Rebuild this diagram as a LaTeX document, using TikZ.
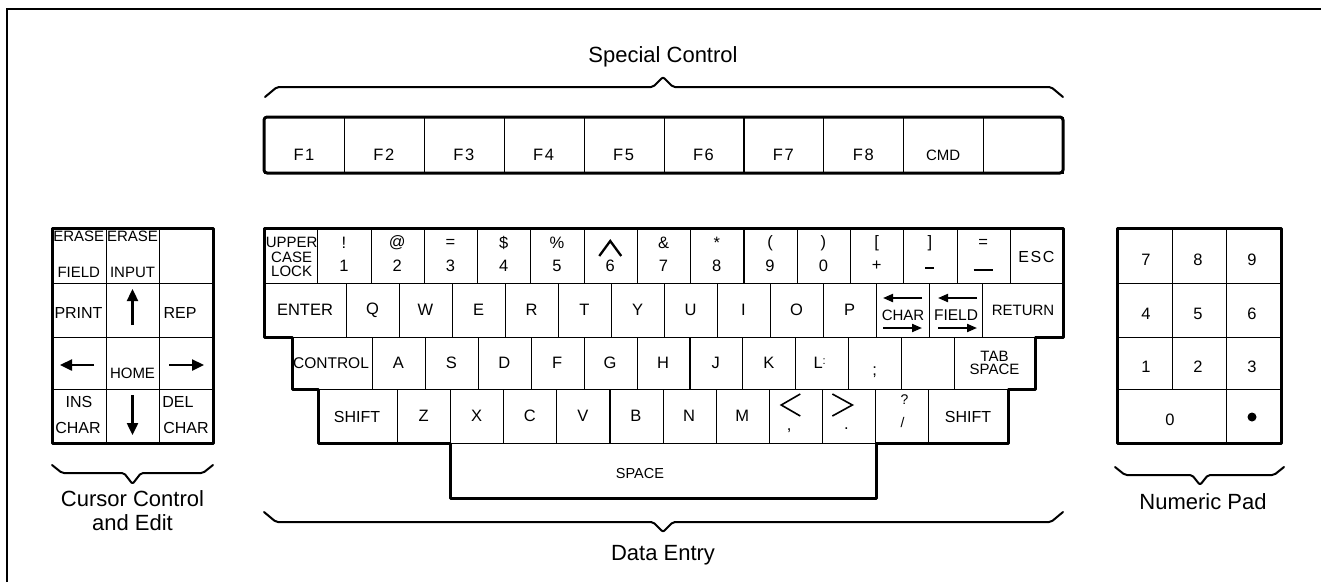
\documentclass[tikz,border=0pt]{standalone}
\usepackage{fontspec}
\setmainfont{Liberation Sans}
\newfontfamily\spc[LetterSpace=10]{Liberation Sans}
\usetikzlibrary{arrows.meta}
\newcommand\kfont[1]{\fontsize{#1}{#1}\selectfont}
\begin{document}
\begin{tikzpicture}[x=1pt,y=-1pt,
  kb/.style n args={2}{draw,line width=1.1pt,inner sep=0pt,minimum width=#1,minimum height=#2,anchor=north west},
  lbl/.style={inner sep=0pt,font=\kfont{16.5}},
  lsm/.style={inner sep=0pt,font=\fontsize{15}{13}\selectfont,align=center},
  ttl/.style={inner sep=0pt,font=\fontsize{22}{24}\selectfont,align=center},
  outl/.style={line width=3pt,line join=round},
  brc/.style={line width=2pt,line join=round,line cap=round,rounded corners=2pt},
  arr/.style={line width=2.4pt,-{Triangle[length=12pt,width=11pt]}},
  arrs/.style={line width=2pt,-{Triangle[length=10pt,width=8pt]}}
]
\useasboundingbox (0,0) rectangle (1321,582);
\draw[line width=1.2pt] (7,582) -- (7,9) -- (1321,9);

% ---------- Special control ----------
\node[ttl] (sc) at (663,57) {Special Control};
\draw[brc] (265,97) -- (277,87) -- (653,87) -- (663,77) -- (673,87) -- (1051,87) -- (1063,97);
\foreach \i/\t in {0/F1,1/F2,2/F3,3/F4,4/F5,5/F6,6/F7,7/F8} {
  \node[kb={79.9pt}{56pt}] (f\i) at ({264+\i*79.9},117) {};
  \node[inner sep=0pt,font=\spc\kfont{16.5}] (fl\i) at ({264+(\i+0.5)*79.9},155) {\t};
}
\node[kb={79.9pt}{56pt}] (f8) at ({264+8*79.9},117) {};
\node[inner sep=0pt,font=\kfont{15}] (fl8) at ({264+8.5*79.9},155) {CMD};
\node[kb={79.9pt}{56pt}] (f9) at ({264+9*79.9},117) {};
\draw[outl,rounded corners=3pt] (264,117) rectangle (1063,173);

% ---------- Row 1 ----------
\foreach \i in {0,...,14} {
  \node[kb={53.27pt}{55pt}] (ra\i) at ({264+\i*53.27},228) {};
}
\node[inner sep=0pt,font=\fontsize{15}{14.5}\selectfont,align=center] (upl) at ({264+0.5*53.27+1},257) {UPPER\\CASE\\LOCK};
\foreach \i/\t/\b in {1/!/1,2/@/2,3/=/3,4/\$/4,5/\%/5,7/\&/7,8/*/8,9/(/9,10/)/0,11/{[}/+} {
  \node[lbl] (rat\i) at ({264+(\i+0.5)*53.27},243) {\t};
  \node[lbl] (rab\i) at ({264+(\i+0.5)*53.27},266) {\b};
}
\node[lbl] (rat6) at ({264+6.5*53.27},266) {6};
\draw[line width=2.3pt] ({264+6.5*53.27-11},256) -- ({264+6.5*53.27},241) -- ({264+6.5*53.27+11},256);
\node[lbl] (rat12) at ({264+12.5*53.27},243) {]};
\node[inner sep=0pt] (rab12) at ({264+12.5*53.27},268) {\rule{9pt}{1.3pt}};
\node[lbl] (rat13) at ({264+13.5*53.27},243) {=};
\node[inner sep=0pt] (rab13) at ({264+13.5*53.27},270) {\rule{19pt}{1.3pt}};
\node[inner sep=0pt,font=\spc\kfont{16}] (esc) at ({264+14.5*53.27},257) {ESC};

% ---------- Row 2 ----------
\node[kb={82pt}{54pt}] (enter) at (264,283) {};
\node[lbl] (enterl) at (305,310) {ENTER};
\foreach \i/\t in {0/Q,1/W,2/E,3/R,4/T,5/Y,6/U,7/I,8/O,9/P} {
  \node[kb={53pt}{54pt}] (rb\i) at ({346+\i*53},283) {};
  \node[lbl] (rbl\i) at ({346+(\i+0.5)*53},310) {\t};
}
\node[kb={53pt}{54pt}] (rb10) at (876,283) {};
\node[kb={53pt}{54pt}] (rb11) at (929,283) {};
\node[inner sep=0pt,font=\kfont{15}] (charl) at (903,315) {CHAR};
\node[inner sep=0pt,font=\kfont{15.5}] (fieldl) at (956,315) {FIELD};
\draw[arrs] (922,298) -- (883,298);
\draw[arrs] (883,328) -- (922,328);
\draw[arrs] (977,298) -- (938,298);
\draw[arrs] (938,328) -- (977,328);
\node[kb={81pt}{54pt}] (ret) at (982,283) {};
\node[inner sep=0pt,font=\kfont{15}] (retl) at (1023,310) {RETURN};

% ---------- Row 3 ----------
\node[kb={80pt}{52pt}] (ctrl) at (292,337) {};
\node[inner sep=0pt,font=\kfont{15.5}] (ctrll) at (331,363) {CONTROL};
\foreach \i in {0,...,10} {
  \node[kb={52.9pt}{52pt}] (rc\i) at ({372+\i*52.9},337) {};
}
\foreach \i/\t in {0/A,1/S,2/D,3/F,4/G,5/H,6/J,7/K} {
  \node[lbl] (rcl\i) at ({372+(\i+0.5)*52.9},363) {\t};
}
\node[lbl] (rcl8) at ({372+8.5*52.9-2},363) {L\raisebox{4pt}{\kfont{11}:}};
\node[lbl] (rcl9) at ({372+9.5*52.9},372) {;};
\node[kb={81pt}{52pt}] (tab) at (954,337) {};
\node[lsm] (tabl) at (994.5,363) {TAB\\SPACE};

% ---------- Row 4 ----------
\node[kb={79pt}{54pt}] (lsh) at (318,389) {};
\node[inner sep=0pt,font=\kfont{16}] (lshl) at (357,417) {SHIFT};
\foreach \i in {0,...,9} {
  \node[kb={53.1pt}{54pt}] (rd\i) at ({397+\i*53.1},389) {};
}
\foreach \i/\t in {0/Z,1/X,2/C,3/V,4/B,5/N,6/M} {
  \node[lbl] (rdl\i) at ({397+(\i+0.5)*53.1},416) {\t};
}
\draw[line width=1.6pt] ({397+7.5*53.1+5},394) -- ({397+7.5*53.1-14},405) -- ({397+7.5*53.1+5},416);
\node[lbl] (comma) at ({397+7.5*53.1-6},431) {,};
\draw[line width=1.6pt] ({397+8.5*53.1-16},394) -- ({397+8.5*53.1+4},405) -- ({397+8.5*53.1-16},416);
\node[lbl] (period) at ({397+8.5*53.1-2},429) {.};
\node[inner sep=0pt,font=\kfont{14}] (qm) at ({397+9.5*53.1+3},400) {?};
\node[inner sep=0pt,font=\kfont{14}] (sl) at ({397+9.5*53.1+1},422) {/};
\node[kb={80pt}{54pt}] (rsh) at (928,389) {};
\node[inner sep=0pt,font=\kfont{16}] (rshl) at (968,417) {SHIFT};

% ---------- Space ----------
\node[kb={426pt}{55pt}] (space) at (450,443) {};
\node[inner sep=0pt,font=\kfont{14.5}] (spacel) at (640,473) {SPACE};

\draw[outl] (264,228) -- (1063,228) -- (1063,337) -- (1035,337) -- (1035,389) -- (1008,389) -- (1008,443) -- (876,443) -- (876,498) -- (450,498) -- (450,443) -- (318,443) -- (318,389) -- (292,389) -- (292,337) -- (264,337) -- cycle;

\draw[brc] (264,512) -- (276,522) -- (653,522) -- (663,532) -- (673,522) -- (1051,522) -- (1063,512);
\node[ttl] (de) at (663,555) {Data Entry};

% ---------- Cursor control ----------
\foreach \r/\yt/\h in {1/228/55,2/283/54,3/337/52,4/389/54} {
  \foreach \c in {0,1,2} {
    \node[kb={53.67pt}{\h pt}] (cc\r\c) at ({52+\c*53.67},\yt) {};
  }
}
\node[inner sep=0pt,font=\kfont{15}] (ef1) at (78.8,236) {ERASE};
\node[inner sep=0pt,font=\kfont{15}] (ef2) at (78.8,272) {FIELD};
\node[inner sep=0pt,font=\kfont{15}] (ei1) at (132.5,236) {ERASE};
\node[inner sep=0pt,font=\kfont{15}] (ei2) at (132.5,272) {INPUT};
\node[inner sep=0pt,font=\kfont{16}] (prt) at (78.5,313) {PRINT};
\node[inner sep=0pt,font=\kfont{16}] (rep) at (180,313) {REP};
\draw[arr] (132.5,325) -- (132.5,289);
\draw[arr] (94,365) -- (60,365);
\node[inner sep=0pt,font=\kfont{15}] (home) at (132.5,373) {HOME};
\draw[arr] (169,365) -- (204,365);
\node[inner sep=0pt,font=\kfont{16}] (ins) at (79,402) {INS};
\node[inner sep=0pt,font=\kfont{16}] (ich) at (78,428) {CHAR};
\draw[arr] (132.5,395) -- (132.5,435);
\node[inner sep=0pt,font=\kfont{16}] (del) at (178,402) {DEL};
\node[inner sep=0pt,font=\kfont{16}] (dch) at (186,428) {CHAR};
\draw[outl] (52,228) rectangle (213,443);
\draw[brc] (52,465) -- (62,473) -- (124,473) -- (132.5,484) -- (141,473) -- (203,473) -- (213,465);
\node[ttl] (cce) at (132.5,511) {Cursor Control\\and Edit};

% ---------- Numeric pad ----------
\foreach \r/\yt/\h/\a/\b/\c in {1/228/55/7/8/9,2/283/54/4/5/6,3/337/52/1/2/3} {
  \node[kb={54.67pt}{\h pt}] (np\r1) at (1117,\yt) {};
  \node[kb={54.67pt}{\h pt}] (np\r2) at (1171.67,\yt) {};
  \node[kb={54.67pt}{\h pt}] (np\r3) at (1226.33,\yt) {};
  \node[lbl] (npl\r1) at (1146,{\yt+\h/2+4}) {\a};
  \node[lbl] (npl\r2) at (1198,{\yt+\h/2+4}) {\b};
  \node[lbl] (npl\r3) at (1252,{\yt+\h/2+4}) {\c};
}
\node[kb={109.33pt}{54pt}] (np0) at (1117,389) {};
\node[kb={54.67pt}{54pt}] (npd) at (1226.33,389) {};
\node[lbl] (np0l) at (1170,420) {0};
\fill (1252,417) circle (4.5);
\draw[outl] (1117,228) rectangle (1281,443);
\draw[brc] (1115,467) -- (1125,475) -- (1192,475) -- (1200,485) -- (1208,475) -- (1274,475) -- (1284,467);
\node[ttl] (np) at (1203,502) {Numeric Pad};
\end{tikzpicture}
\end{document}
